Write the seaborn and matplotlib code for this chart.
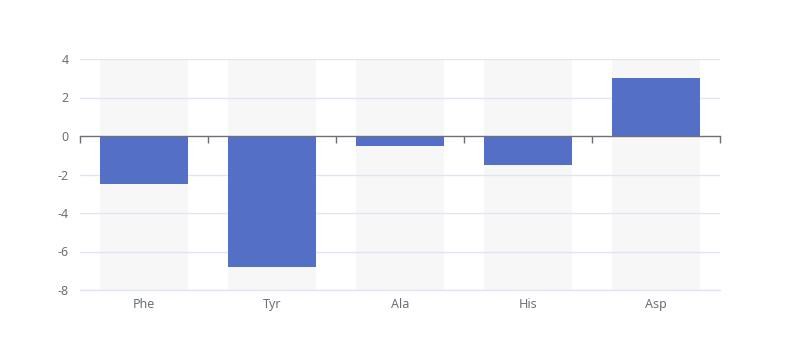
import matplotlib
matplotlib.use("Agg")
import matplotlib.pyplot as plt
import seaborn as sns
import pandas as pd
import numpy as np

categories = ["Phe", "Tyr", "Ala", "His", "Asp"]
values = [-2.5, -6.8, -0.5, -1.5, 3.0]
y_ticks = [-8, -6, -4, -2, 0, 2, 4]

ymin, ymax = -8, 4
bar_color = "#5470C6"
shadow_color = "#F7F7F7"
grid_color = "#E0E6F1"
axis_color = "#6E7079"
text_color = "#6E7079"

sns.set_theme(style="white")
plt.rcParams["font.family"] = ["Noto Sans", "DejaVu Sans"]

df = pd.DataFrame({"cat": categories, "val": values})

fig = plt.figure(figsize=(8, 3.6), dpi=100)
ax = fig.add_axes([0.1, 1 - 290 / 360, 0.8, (290 - 59) / 360])

n = len(categories)
width = 0.69
# shadow bars
ax.bar(np.arange(n), [ymax - ymin] * n, bottom=ymin, width=width,
       color=shadow_color, zorder=0, linewidth=0)

sns.barplot(data=df, x="cat", y="val", color=bar_color, saturation=1,
            width=width, ax=ax, zorder=2, linewidth=0)

ax.set_xlim(-0.5, n - 0.5)
ax.set_ylim(ymin, ymax)
ax.set_yticks(y_ticks)
ax.set_yticklabels([str(t) for t in y_ticks])
ax.set_xlabel("")
ax.set_ylabel("")

for t in y_ticks:
    if t != 0:
        ax.axhline(t, color=grid_color, lw=1, zorder=1)

for s in ["top", "right", "left"]:
    ax.spines[s].set_visible(False)
ax.spines["bottom"].set_color(grid_color)
ax.spines["bottom"].set_linewidth(1)

ax.tick_params(axis="y", length=0, pad=8, labelsize=9, labelcolor=text_color)
ax.tick_params(axis="x", length=0, pad=6, labelsize=9, labelcolor=text_color)

# zero axis line with boundary ticks
sec = ax.secondary_xaxis((0 - ymin) / (ymax - ymin))
sec.set_xticks(np.arange(-0.5, n, 1.0))
sec.set_xticklabels([])
for sp in sec.spines.values():
    sp.set_color(axis_color)
    sp.set_linewidth(1)
sec.xaxis.set_ticks_position("bottom")
sec.tick_params(axis="x", which="both", length=5, width=1, color=axis_color,
                direction="out", top=False, bottom=True)
sec.set_zorder(3)

fig.savefig("out.png", dpi=100)
